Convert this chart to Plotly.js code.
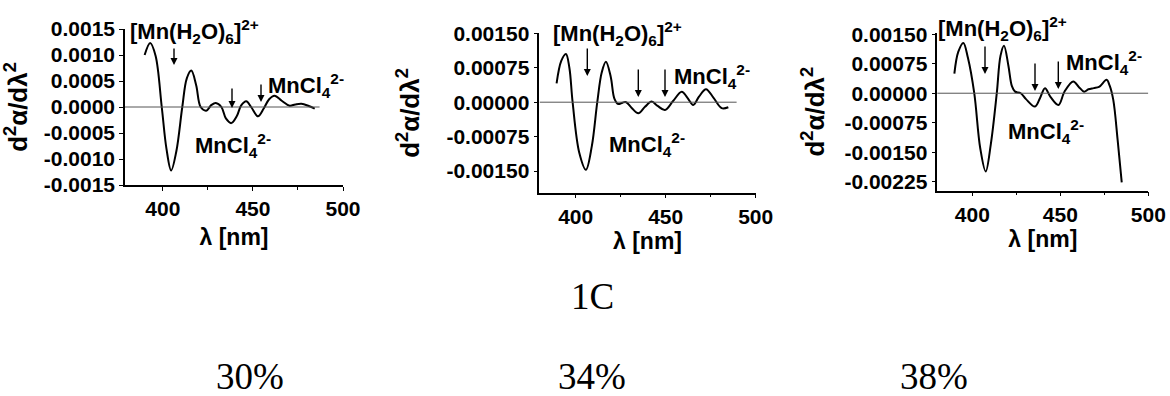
<!DOCTYPE html>
<html>
<head>
<meta charset="utf-8">
<script src="https://cdn.plot.ly/plotly-3.0.1.min.js"></script>
<style>html,body{margin:0;padding:0;background:#fff;}#chart{width:1170px;height:396px;}</style>
</head>
<body>
<div id="chart"></div>
<script>
// ---- data ----
const panelLabels = ['30%', '34%', '38%'];
const figureLabel = '1C';

const lam30 = [389.9, 393.0, 396.0, 399.4, 402.0, 404.6, 407.5, 410.8, 413.3, 415.8, 418.5, 421.0, 424.1, 427.0, 429.4, 432.5, 435.0, 438.0, 441.0, 443.5, 446.3, 449.0, 452.8, 456.0, 459.0, 462.0, 466.0, 470.4, 473.5, 476.9, 481.0, 484.3];
const d2_30 = [0.00100, 0.00123, 0.00098, 0.0, -0.00080, -0.00122, -0.00085, 0.0, 0.00055, 0.00070, 0.00042, 0.0, -0.00007, 0.00004, 0.000077, 0.0, -0.00022, -0.00031, -0.00018, 0.00003, 0.00011, 0.0, -0.00018, -0.00003, 0.00015, 0.000217, 0.00012, 0.000025, 0.00005, 0.000064, 0.00002, -0.00003];

const lam34 = [389.4, 392.0, 394.6, 396.5, 398.3, 402.0, 405.7, 409.0, 412.0, 414.5, 416.8, 419.5, 421.5, 423.7, 426.0, 428.0, 431.0, 434.8, 438.5, 442.2, 445.5, 449.6, 454.0, 458.9, 462.0, 465.3, 468.5, 472.4, 476.5, 481.1, 484.8];
const d2_34 = [0.00041, 0.00090, 0.00105, 0.00075, 0.0, -0.00110, -0.00147, -0.00095, 0.0, 0.00065, 0.00088, 0.00055, 0.00008, -0.00004, -0.00001, 0.0, -0.00012, -0.00024, -0.00010, 0.000013, -0.00008, -0.00017, 0.00002, 0.00023, 0.00010, -0.00006, 0.00012, 0.000283, 0.00010, -0.00013, -0.00011];

const lam38 = [389.8, 392.0, 394.9, 397.5, 401.1, 404.5, 407.6, 410.5, 413.9, 416.0, 418.0, 420.5, 422.5, 424.3, 427.5, 430.5, 435.6, 438.5, 441.3, 444.5, 448.9, 452.5, 457.4, 460.5, 463.5, 466.0, 469.0, 472.0, 476.3, 478.0, 480.1, 482.6, 484.9];
const d2_38 = [0.00050, 0.00105, 0.00128, 0.00090, 0.0, -0.00140, -0.00199, -0.00130, 0.0, 0.00095, 0.00121, 0.00070, 0.00018, 0.00004, 0.0, -0.00015, -0.00034, -0.00012, 0.000128, -0.00010, -0.00030, 0.00005, 0.000298, 0.00016, 0.00004, 0.00010, 0.00013, 0.00016, 0.00034, 0.00020, -0.00017, -0.0012, -0.00227];

const xTickVals = [400, 450, 500];
const xTickText = ['400', '450', '500'];
const xMinorVals = [425, 475];

const yTickVals30 = [-0.0015, -0.0010, -0.0005, 0.0, 0.0005, 0.0010, 0.0015];
const yTickText30 = ['-0.0015', '-0.0010', '-0.0005', '0.0000', '0.0005', '0.0010', '0.0015'];
const yTickVals34 = [-0.0015, -0.00075, 0.0, 0.00075, 0.0015];
const yTickText34 = ['-0.00150', '-0.00075', '0.00000', '0.00075', '0.00150'];
const yTickVals38 = [-0.00225, -0.0015, -0.00075, 0.0, 0.00075, 0.0015];
const yTickText38 = ['-0.00225', '-0.00150', '-0.00075', '0.00000', '0.00075', '0.00150'];

const xTitle = 'λ [nm]';
const yTitle = 'd<sup>2</sup>α/dλ<sup>2</sup>';
const labelHex = '[Mn(H<sub>2</sub>O)<sub>6</sub>]<sup>2+</sup>';
const labelCl = 'MnCl<sub>4</sub><sup>2-</sup>';

// ---- styling / layout ----
const W = 1170, H = 396;
const PX = x => x / W;
const PY = y => 1 - y / H;
const SANS = {family: 'Liberation Sans, Arial, sans-serif', size: 21, color: '#000', weight: 'bold'};
const ANN = {family: 'Liberation Sans, Arial, sans-serif', size: 22, color: '#000', weight: 'bold'};
const XTF = {family: 'Liberation Sans, Arial, sans-serif', size: 23, color: '#000', weight: 'bold'};
const YTF = {family: 'Liberation Sans, Arial, sans-serif', size: 26, color: '#000', weight: 'bold'};
const SERIF = {family: 'Liberation Serif, Times New Roman, serif', size: 37, color: '#000'};

function xax(domain, range, standoff) {
  return {
    domain: domain, range: range, showgrid: false, zeroline: false,
    showline: true, linecolor: '#000', linewidth: 1.5,
    ticks: 'outside', ticklen: 4, tickwidth: 1.2, tickcolor: '#000',
    tickmode: 'array', tickvals: xTickVals, ticktext: xTickText,
    minor: {tickmode: 'array', tickvals: xMinorVals, ticks: 'outside', ticklen: 3, tickcolor: '#000'},
    tickfont: SANS, title: {text: xTitle, font: XTF, standoff: standoff}, fixedrange: true
  };
}
function yax(domain, range, vals, txt, anchor, standoff) {
  return {
    domain: domain, range: range, anchor: anchor, showgrid: false, zeroline: false,
    showline: true, linecolor: '#000', linewidth: 1.5,
    ticks: 'outside', ticklen: 4, tickwidth: 1.2, tickcolor: '#000',
    tickmode: 'array', tickvals: vals, ticktext: txt,
    tickfont: SANS, title: {text: yTitle, font: YTF, standoff: standoff}, fixedrange: true
  };
}

const line = {color: '#000', width: 2, shape: 'spline', smoothing: 1};
const traces = [
  {x: lam30, y: d2_30, xaxis: 'x', yaxis: 'y', mode: 'lines', line: line, hoverinfo: 'skip'},
  {x: lam34, y: d2_34, xaxis: 'x2', yaxis: 'y2', mode: 'lines', line: line, hoverinfo: 'skip'},
  {x: lam38, y: d2_38, xaxis: 'x3', yaxis: 'y3', mode: 'lines', line: line, hoverinfo: 'skip'}
];

const zl = {color: '#555', width: 1};
const shapes = [
  {type: 'line', xref: 'x', yref: 'y', x0: 379, x1: 487, y0: 0, y1: 0, line: zl},
  {type: 'line', xref: 'x2', yref: 'y2', x0: 380, x1: 489.4, y0: 0, y1: 0, line: zl},
  {type: 'line', xref: 'x3', yref: 'y3', x0: 380, x1: 500, y0: 0, y1: 0, line: zl}
];

function txt(t, x, y, font, xanchor) {
  return {text: t, x: PX(x), y: PY(y), xref: 'paper', yref: 'paper', showarrow: false,
          xanchor: xanchor || 'left', yanchor: 'middle', font: font};
}
function arrow(x, yTail, yTip) {
  return {text: '', x: PX(x), y: PY(yTip), xref: 'paper', yref: 'paper', showarrow: true,
          ax: 0, ay: -(yTip - yTail), axref: 'pixel', ayref: 'pixel',
          arrowhead: 2, arrowsize: 1, arrowwidth: 1.4, arrowcolor: '#000', standoff: 0};
}

const annotations = [
  // panel 30%
  txt(labelHex, 128, 32, ANN), txt(labelCl, 266, 85, ANN), txt(labelCl, 193, 145, ANN),
  arrow(174, 47, 65), arrow(232, 87, 108), arrow(261, 83, 102),
  // panel 34%
  txt(labelHex, 551, 33, ANN), txt(labelCl, 672, 76, ANN), txt(labelCl, 607, 144, ANN),
  arrow(587.3, 47, 76), arrow(638.3, 68, 97), arrow(665, 68, 97),
  // panel 38%
  txt(labelHex, 936, 29, ANN), txt(labelCl, 1064, 62, ANN), txt(labelCl, 1006, 131, ANN),
  arrow(985, 45, 74), arrow(1035, 62, 91), arrow(1058.3, 60, 89),
  // bottom labels
  txt(figureLabel, 592, 296, SERIF, 'center'),
  txt(panelLabels[0], 250, 376, SERIF, 'center'),
  txt(panelLabels[1], 592, 376, SERIF, 'center'),
  txt(panelLabels[2], 934, 376, SERIF, 'center')
];

const layout = {
  width: W, height: H, margin: {l: 0, r: 0, t: 0, b: 0},
  paper_bgcolor: '#fff', plot_bgcolor: '#fff', showlegend: false,
  xaxis: xax([PX(125), PX(343)], [379, 500], 10),
  yaxis: yax([PY(185), PY(29)], [-0.0015, 0.0015], yTickVals30, yTickText30, 'x', 10),
  xaxis2: xax([PX(539.3), PX(755.7)], [379.8, 500], 4),
  yaxis2: yax([PY(192.7), PY(33.3)], [-0.00197, 0.0015], yTickVals34, yTickText34, 'x2', 19),
  xaxis3: xax([PX(937.3), PX(1148.3)], [380.1, 500], 3),
  yaxis3: yax([PY(190.7), PY(32.7)], [-0.00248, 0.00154], yTickVals38, yTickText38, 'x3', 12),
  shapes: shapes, annotations: annotations
};
layout.xaxis.anchor = 'y';
layout.xaxis2.anchor = 'y2';
layout.xaxis3.anchor = 'y3';

Plotly.newPlot('chart', traces, layout, {displayModeBar: false});
</script>
</body>
</html>
